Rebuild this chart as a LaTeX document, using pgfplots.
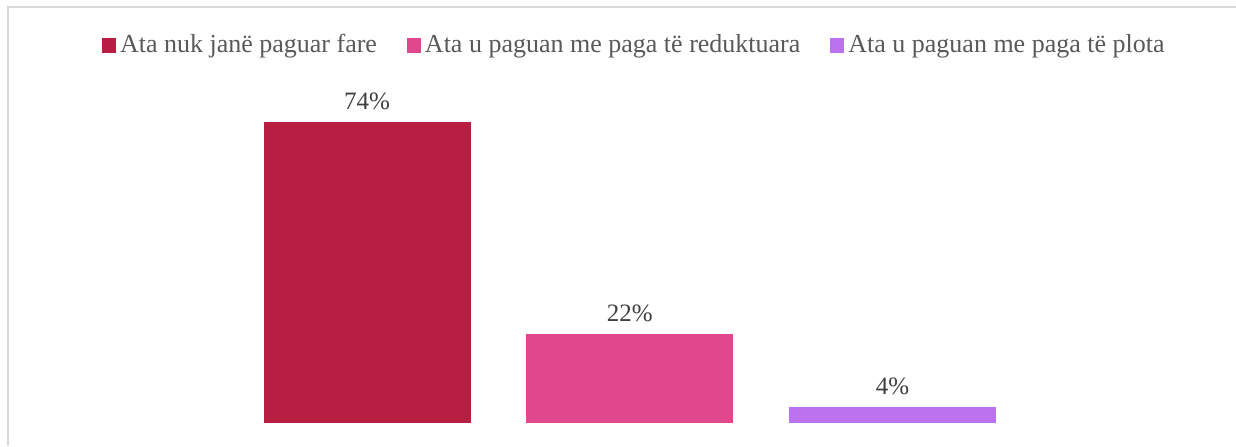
\documentclass[border=0pt]{standalone}
\usepackage{pgfplots}
\pgfplotsset{compat=1.18}
\usepackage{fontspec}
\setmainfont{Liberation Serif}
\definecolor{c1}{RGB}{183,30,66}
\definecolor{c2}{RGB}{223,72,141}
\definecolor{c3}{RGB}{188,113,238}
\definecolor{txt}{RGB}{89,89,89}
\definecolor{lbl}{RGB}{64,64,64}
\definecolor{frame}{RGB}{217,217,217}
\begin{document}
\begin{tikzpicture}
\begin{axis}[
  at={(0pt,0pt)}, anchor=south west,
  scale only axis, width=618pt, height=223pt,
  hide axis, clip=false,
  xmin=-0.3968, xmax=4.307,
  ymin=-5.65, ymax=103.98,
  ybar, bar width=0.788,
  /pgf/bar shift=0pt,
  /pgf/number format/assume math mode=true,
  nodes near coords={\pgfmathprintnumber{\pgfplotspointmeta}\%},
  every node near coord/.append style={font=\fontsize{12.5pt}{14pt}\selectfont, text=lbl, anchor=base, yshift=6pt},
  legend columns=3,
  legend style={at={(0.514,0.899)}, anchor=center, draw=none, fill=none,
    font=\fontsize{13pt}{15pt}\selectfont, text=txt,
    /tikz/every even column/.append style={column sep=13pt}},
  legend image code/.code={\fill[#1] (0pt,-3.9pt) rectangle (7pt,3.6pt);},
]
\addplot[fill=c1, draw=none] coordinates {(1,74)};
\addlegendentry{Ata nuk janë paguar fare}
\addplot[fill=c2, draw=none] coordinates {(2,22)};
\addlegendentry{Ata u paguan me paga të reduktuara}
\addplot[fill=c3, draw=none] coordinates {(3,4)};
\addlegendentry{Ata u paguan me paga të plota}
\draw[frame, line width=1pt] (rel axis cs:0.00647,0) -- (rel axis cs:0.00647,0.9832) -- (rel axis cs:1.01,0.9832);
\end{axis}
\pgfresetboundingbox
\path[use as bounding box] (0pt,0pt) rectangle (618pt,223pt);
\end{tikzpicture}
\end{document}
